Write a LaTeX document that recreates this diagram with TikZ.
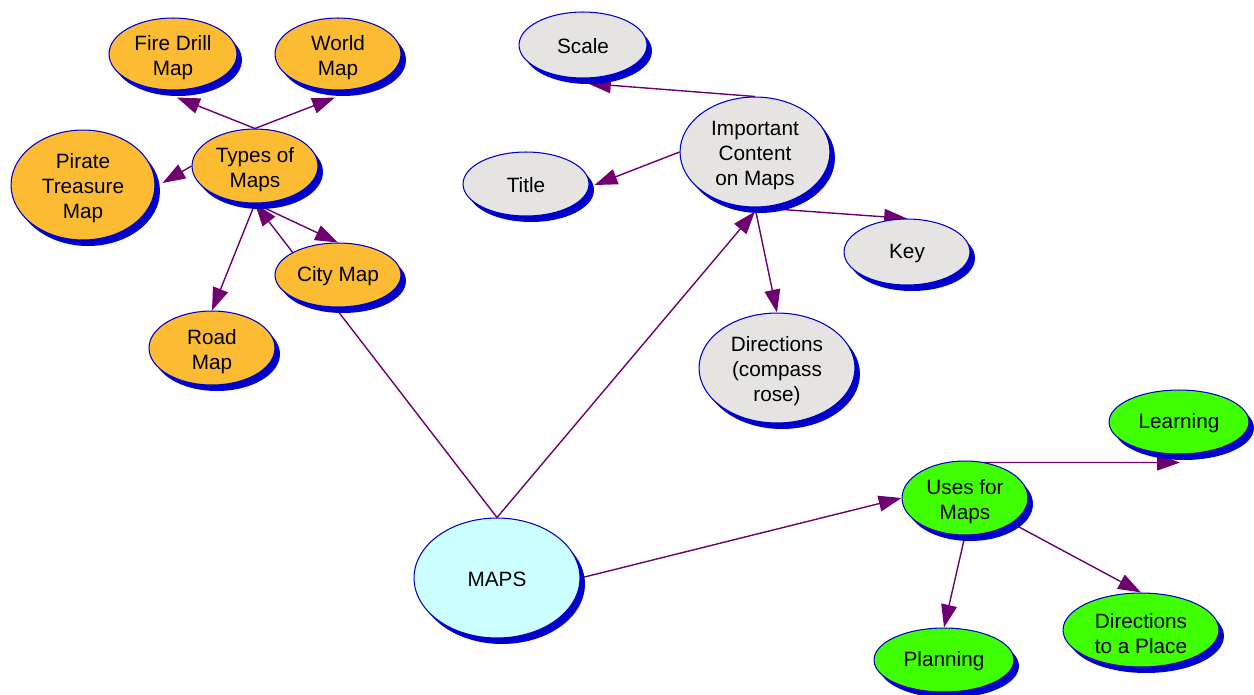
\documentclass[tikz,border=0pt]{standalone}
\usepackage{fontspec}
\setmainfont{Liberation Sans}
\usetikzlibrary{shapes.geometric,shadows,arrows.meta,calc,backgrounds}
\definecolor{edgecol}{RGB}{110,0,112}
\definecolor{bordcol}{RGB}{0,0,204}
\definecolor{shadcol}{RGB}{0,0,204}
\definecolor{orangefill}{RGB}{251,188,51}
\definecolor{grayfill}{RGB}{229,228,226}
\definecolor{cyanfill}{RGB}{204,255,255}
\definecolor{greenfill}{RGB}{64,255,0}
\tikzset{
  concept/.style 2 args={ellipse, draw=bordcol, line width=0.6pt, inner sep=0pt,
    minimum width=#1*0.04cm, minimum height=#2*0.04cm,
    drop shadow={shadow xshift=0.1cm, shadow yshift=-0.12cm, fill=shadcol, opacity=1}},
  lbl/.style={align=center, inner sep=0pt, font=\fontsize{11.8}{14.2}\selectfont},
  txt/.style={label={[lbl, yshift=-0.07cm]center:{#1}}},
  txtone/.style={label={[lbl, yshift=-0.03cm]center:{#1}}},
  orng/.style={fill=orangefill},
  gry/.style={fill=grayfill},
  cyn/.style={fill=cyanfill},
  grn/.style={fill=greenfill},
  link/.style={draw=edgecol, line width=0.8pt, -{Triangle[length=13pt,width=9pt]}}
}
\begin{document}
\begin{tikzpicture}[x=0.02cm, y=-0.02cm]
\useasboundingbox (0,0) rectangle (1254,694);
% orange nodes
\node[concept={64}{36}, orng, txt={Fire Drill\\Map}] (fire) at (173,54) {};
\node[concept={63}{36}, orng, txt={World\\Map}] (world) at (338,54) {};
\node[concept={72}{55}, orng, txt={Pirate\\Treasure\\Map}] (pirate) at (83,185) {};
\node[concept={63}{37}, orng, txt={Types of\\Maps}] (types) at (255,166) {};
\node[concept={63}{32}, orng, txtone={City Map}] (city) at (338,275) {};
\node[concept={63}{37}, orng, txt={Road\\Map}] (road) at (212,348) {};
% gray nodes
\node[concept={64}{33}, gry, txtone={Scale}] (scale) at (583,45) {};
\node[concept={75}{55}, gry, txt={Important\\Content\\on Maps}] (important) at (755,152) {};
\node[concept={63}{32}, gry, txtone={Title}] (title) at (526,184) {};
\node[concept={63}{33}, gry, txtone={Key}] (key) at (907,252) {};
\node[concept={78}{55}, gry, txt={Directions\\(compass\\rose)}] (dcomp) at (777,368) {};
% root
\node[concept={83}{60}, cyn, txtone={MAPS}] (maps) at (497,578) {};
% green nodes
\node[concept={63}{37}, grn, txt={Uses for\\Maps}] (uses) at (965,498) {};
\node[concept={70}{32}, grn, txtone={Learning}] (learning) at (1179,422) {};
\node[concept={70}{32}, grn, txtone={Planning}] (planning) at (944,660) {};
\node[concept={78}{37}, grn, txt={Directions\\to a Place}] (dplace) at (1141,630) {};
\begin{pgfonlayer}{background}
\draw[link] (types.north) -- ($(fire.south)+(4,7)$);
\draw[link] (types.north) -- ($(world.south)+(-3,7)$);
\draw[link] (types.west) -- ($(pirate.east)+(7,-2)$);
\draw[link] (types.south) -- (road.north);
\draw[link] (types.south) -- (city.north);
\draw[link] (maps.north) -- (types.south);
\draw[link] (maps.north) -- ($(important.south)+(0,4)$);
\draw[link] (important.north) -- ($(scale.south)+(5,5)$);
\draw[link] (important.west) -- ($(title.east)+(5,1)$);
\draw[link] (important.south) -- (key.north);
\draw[link] (important.south) -- (dcomp.north);
\draw[link] (maps.east) -- (uses.west);
\draw[link] ($(uses.north)+(0,2)$) -- ($(learning.south)+(1,8)$);
\draw[link] (uses.south) -- (planning.north);
\draw[link] (uses) -- (dplace.north);
\end{pgfonlayer}
\end{tikzpicture}
\end{document}
